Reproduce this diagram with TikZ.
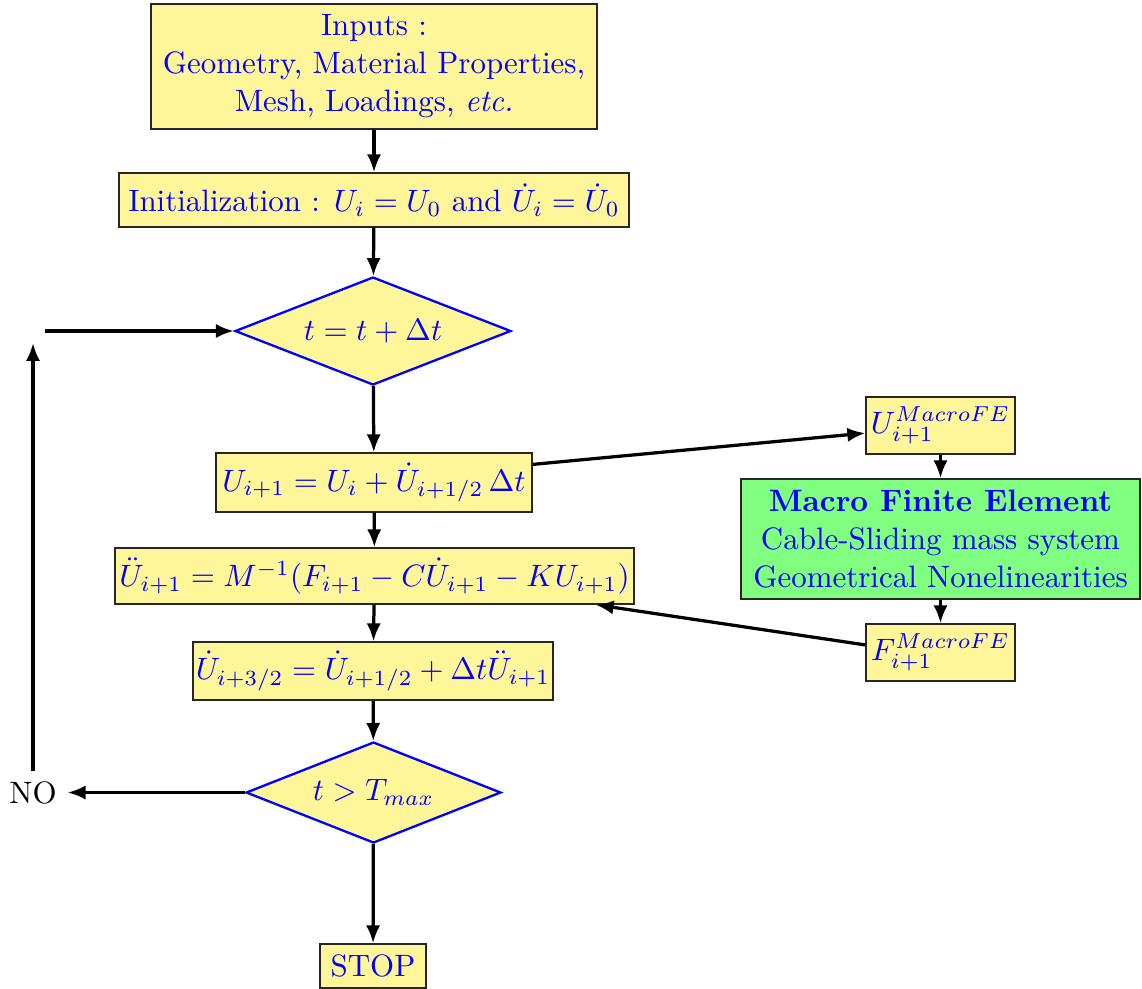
\documentclass[tikz,border=0pt]{standalone}
\usetikzlibrary{shapes.geometric,arrows.meta,calc}
\definecolor{boxyellow}{RGB}{255,245,153}
\definecolor{boxgreen}{RGB}{128,255,128}
\definecolor{txtblue}{RGB}{0,0,255}
\begin{document}
\begin{tikzpicture}[x=0.3232pt,y=-0.3232pt,
  every node/.style={font=\fontsize{10}{12.3}\selectfont},
  box/.style={draw=black!85,line width=0.45pt,fill=boxyellow,text=txtblue,inner sep=0pt,align=center},
  dia/.style={diamond,draw=txtblue,line width=0.75pt,fill=boxyellow,text=txtblue,inner sep=0pt,aspect=2.5},
  arr/.style={line width=1.05pt,-{Latex[length=5.8pt,width=4.6pt]}}]
\useasboundingbox (0,0) rectangle (1142,988);

\node[box,minimum width=446*0.3232pt,minimum height=125*0.3232pt] (in) at (374,66.5)
  {Inputs :\\Geometry, Material Properties,\\Mesh, Loadings, \textit{etc.}};
\node[box,minimum width=510*0.3232pt,minimum height=54*0.3232pt] (init) at (374,200)
  {Initialization : $U_i=U_0$ and $\dot U_i=\dot U_0$};
\node[dia,minimum width=276*0.3232pt,minimum height=108*0.3232pt] (d1) at (373,331)
  {$t=t+\Delta t$};
\node[box,minimum width=316*0.3232pt,minimum height=59*0.3232pt] (u) at (374,482.5)
  {$U_{i+1}=U_i+\dot U_{i+1/2}\,\Delta t$};
\node[box,minimum width=519*0.3232pt,minimum height=56*0.3232pt] (acc) at (374.5,576)
  {$\ddot U_{i+1}=M^{-1}(F_{i+1}-C\dot U_{i+1}-KU_{i+1})$};
\node[box,minimum width=360*0.3232pt,minimum height=58*0.3232pt] (vel) at (373,671)
  {$\dot U_{i+3/2}=\dot U_{i+1/2}+\Delta t\ddot U_{i+1}$};
\node[dia,minimum width=255*0.3232pt,minimum height=101*0.3232pt] (d2) at (373.5,792.5)
  {$t>T_{max}$};
\node[box,minimum width=106*0.3232pt,minimum height=44*0.3232pt] (stop) at (373,966)
  {STOP};
\node[box,minimum width=149*0.3232pt,minimum height=57*0.3232pt] (um) at (940.5,425.5)
  {$U_{i+1}^{MacroFE}$};
\node[box,fill=boxgreen,minimum width=399*0.3232pt,minimum height=120*0.3232pt] (mfe) at (940.5,539)
  {\textbf{Macro Finite Element}\\Cable-Sliding mass system\\Geometrical Nonelinearities};
\node[box,minimum width=149*0.3232pt,minimum height=57*0.3232pt] (fm) at (940.5,652.5)
  {$F_{i+1}^{MacroFE}$};
\node[inner sep=3.33pt] (no) at (33,793) {NO};

\coordinate (upend) at (33,343);
\coordinate (loopstart) at (45,331);

\draw[arr] (in) -- (init);
\draw[arr] (init) -- (d1);
\draw[arr] (d1) -- (u);
\draw[arr] (u) -- (acc);
\draw[arr] (acc) -- (vel);
\draw[arr] (vel) -- (d2);
\draw[arr] (d2) -- (stop);
\draw[arr] (d2.west) -- (no.east |- d2.west);
\draw[arr] (no) -- (upend);
\draw[arr] (loopstart) -- (d1.west);
\draw[arr] ($(u.north east)!0.2!(u.south east)$) -- ($(um.north west)!0.63!(um.south west)$);
\draw[arr] (um) -- (mfe);
\draw[arr] (mfe) -- (fm);
\draw[arr] ($(fm.north west)!0.37!(fm.south west)$) -- ($(acc.south west)!0.925!(acc.south east)$);
\end{tikzpicture}
\end{document}
